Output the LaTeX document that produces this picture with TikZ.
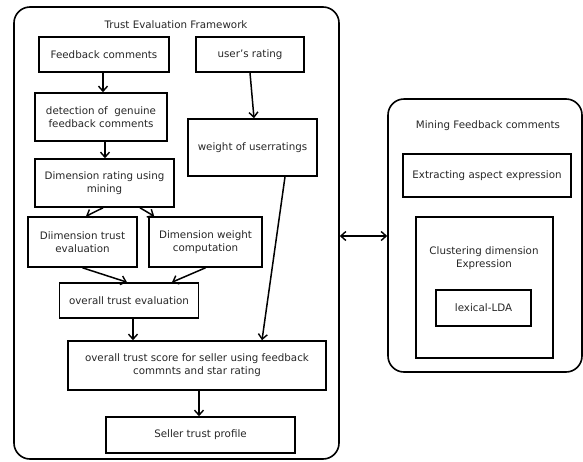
\documentclass[tikz,border=0pt]{standalone}
\usepackage{fontspec}
\setmainfont{DejaVu Sans}
\usetikzlibrary{arrows.meta,calc}
\begin{document}
\begin{tikzpicture}[x=1pt,y=-1pt,
  every node/.style={font=\fontsize{10.3}{12.8}\selectfont, text=black!85, align=center, inner sep=0pt},
  box/.style={draw, line width=1.6pt},
  frame/.style={draw, line width=1.6pt, rounded corners=16pt},
  arr/.style={line width=1.5pt, -{Straight Barb[length=5pt,width=9pt,line width=1.4pt]}},
  darr/.style={line width=1.5pt, {Straight Barb[length=5pt,width=9pt,line width=1.4pt]}-{Straight Barb[length=5pt,width=9pt,line width=1.4pt]}}]
\useasboundingbox (0,0) rectangle (583,461);
% frames
\node[frame, minimum width=325pt, minimum height=452pt] (tef) at (176.5,233) {};
\node[frame, minimum width=194pt, minimum height=273pt] (mfc) at (485,235.5) {};
\node (teft) at (176,25) {Trust Evaluation Framework};
\node (mfct) at (488,126) {Mining Feedback comments};
% left boxes
\node[box, minimum width=130pt, minimum height=35pt] (fb) at (104,54.5) {Feedback comments};
\node[box, minimum width=108pt, minimum height=35pt] (ur) at (250,54.5) {user's rating};
\node[box, minimum width=132pt, minimum height=48pt] (det) at (101,117) {detection of \ genuine\\feedback comments};
\node[box, minimum width=129pt, minimum height=57pt] (wur) at (252.5,147.5) {weight of userratings};
\node[box, minimum width=139pt, minimum height=48pt] (dr) at (104.5,183) {Dimension rating using\\mining};
\node[box, minimum width=109pt, minimum height=50pt] (dte) at (82.5,242) {Diimension trust\\evaluation};
\node[box, minimum width=113pt, minimum height=50pt] (dwc) at (205.5,242) {Dimension weight\\computation};
\node[box, minimum width=139pt, minimum height=35pt] (ote) at (129,300.5) {overall trust evaluation};
\node[box, minimum width=258pt, minimum height=49pt] (ots) at (197,365.5) {overall trust score for seller using feedback\\commnts and star rating};
\node[box, minimum width=189pt, minimum height=36pt] (stp) at (200.5,435) {Seller trust profile};
% right boxes
\node[box, minimum width=168pt, minimum height=43pt] (eae) at (487,175.5) {Extracting aspect expression};
\node[box, minimum width=137pt, minimum height=141pt] (clu) at (484.5,287.5) {};
\node (clut) at (484,258) {Clustering dimension\\Expression};
\node[box, minimum width=95pt, minimum height=36pt] (lda) at (483.5,308) {lexical-LDA};
% arrows
\draw[arr] ([xshift=-1pt]fb.south) -- ([xshift=-1pt]fb.south |- det.north);
\draw[arr] ([xshift=4pt]det.south) -- ([xshift=4pt]det.south |- dr.north);
\draw[arr] (ur.south) -- ([xshift=1.5pt]wur.north);
\draw[arr] ([xshift=-1.5pt]dr.south) -- ([xshift=3.5pt]dte.north);
\draw[arr] ([xshift=35.5pt]dr.south) -- ([xshift=6pt]dwc.north west);
\draw[arr] (dte.south) -- ([xshift=-2pt]ote.north);
\draw[arr] (dwc.south) -- ([xshift=43pt]ote.north);
\draw[arr] ([xshift=32.5pt]wur.south) -- ([xshift=65pt]ots.north);
\draw[arr] ([xshift=4pt]ote.south) -- ([xshift=4pt]ote.south |- ots.north);
\draw[arr] ([xshift=2pt]ots.south) -- ([xshift=2pt]ots.south |- stp.north);
\coordinate (dar) at (360,236);
\draw[darr] (tef.east |- dar) -- (mfc.west |- dar);
\end{tikzpicture}
\end{document}
